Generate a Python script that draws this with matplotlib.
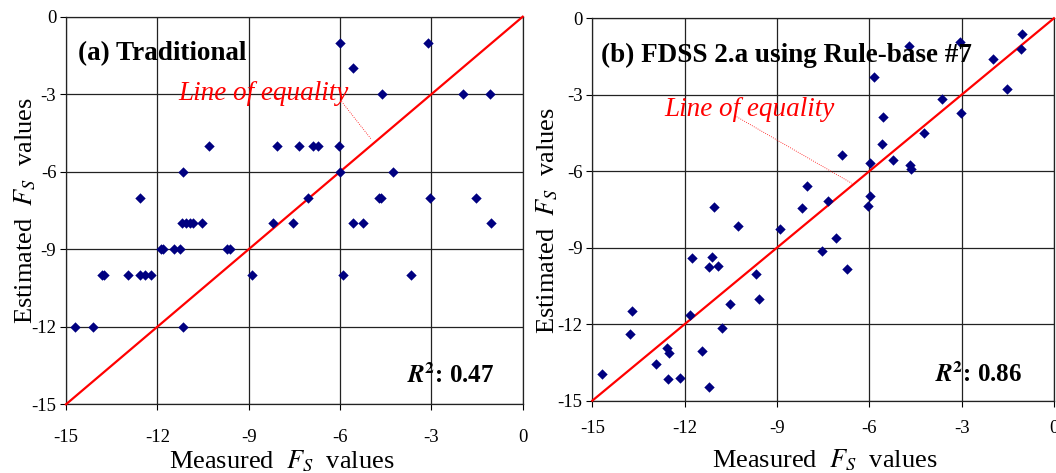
import matplotlib
matplotlib.use("Agg")
import matplotlib.pyplot as plt

plt.rcParams['font.family'] = ['Liberation Serif', 'DejaVu Serif']
plt.rcParams['mathtext.fontset'] = 'stix'
plt.rcParams['axes.unicode_minus'] = False

# (a) Traditional
trad_measured = [-6.0, -3.12, -5.58, -4.63, -1.97, -1.08,
                 -10.31, -8.06, -7.36, -6.88, -6.72, -6.03,
                 -11.17, -6.0, -4.27,
                 -12.57, -7.06, -4.72, -4.66, -3.05, -1.54,
                 -11.18, -11.06, -10.94, -10.82, -10.53, -8.2, -7.54, -5.58, -5.25, -1.05,
                 -11.87, -11.8, -11.46, -11.24, -9.72, -9.62,
                 -13.81, -13.74, -12.95, -12.57, -12.42, -12.2, -8.89, -5.89, -3.67,
                 -14.7, -14.12, -11.17]
trad_estimated = [-1, -1, -2, -3, -3, -3,
                  -5, -5, -5, -5, -5, -5,
                  -6, -6, -6,
                  -7, -7, -7, -7, -7, -7,
                  -8, -8, -8, -8, -8, -8, -8, -8, -8, -8,
                  -9, -9, -9, -9, -9, -9,
                  -10, -10, -10, -10, -10, -10, -10, -10, -10,
                  -12, -12, -12]

# (b) FDSS 2.a using Rule-base #7
fdss_measured = [-1.05, -1.08, -1.97, -1.51, -3.05, -3.03, -3.63, -4.22, -4.71,
                 -5.86, -5.56, -5.6, -5.23, -4.69, -4.64, -5.96, -6.87, -5.96,
                 -6.03, -8.03, -7.33, -8.2, -11.06, -10.27, -8.91, -7.07,
                 -7.54, -6.73, -11.77, -11.12, -11.2, -10.9, -9.68, -9.58,
                 -10.54, -11.83, -10.8, -13.72, -13.79, -12.58, -12.5, -12.94,
                 -11.42, -14.67, -12.55, -12.16, -11.2]
fdss_estimated = [-0.63, -1.2, -1.59, -2.78, -0.94, -3.73, -3.18, -4.5, -1.07,
                  -2.32, -3.86, -4.95, -5.55, -5.76, -5.91, -5.67, -5.37, -6.96,
                  -7.37, -6.58, -7.18, -7.44, -7.41, -8.14, -8.28, -8.6,
                  -9.13, -9.85, -9.4, -9.35, -9.76, -9.72, -10.04, -11.03,
                  -11.22, -11.63, -12.13, -11.49, -12.4, -12.92, -13.13, -13.58,
                  -13.04, -13.94, -14.15, -14.11, -14.48]

ticks = [-15, -12, -9, -6, -3, 0]

fig = plt.figure(figsize=(10.56, 4.73), dpi=100)
ax1 = fig.add_axes([0.0625, 0.1452, 0.4325, 0.8195])
ax2 = fig.add_axes([0.5609, 0.1529, 0.4371, 0.8084])


def setup(ax, measured, estimated, label, r2, label_pos, r2_pos, eq_pos, leader,
          xpad, xlab_xy, ylab_xy):
    ax.set_xlim(-15, 0)
    ax.set_ylim(-15, 0)
    ax.set_xticks(ticks)
    ax.set_yticks(ticks)
    ax.grid(True, color='#222222', lw=0.9)
    ax.set_axisbelow(True)
    for s in ax.spines.values():
        s.set_color('#222222')
        s.set_linewidth(0.9)
    ax.tick_params(direction='out', length=4, width=0.8, labelsize=13.5)
    ax.tick_params(axis='x', pad=xpad)
    ax.tick_params(axis='y', pad=3)

    ax.plot([-15, 0], [-15, 0], color='#ff0000', lw=1.6, zorder=3, clip_on=False)
    ax.scatter(measured, estimated, marker='D', s=28, color='#000080',
               zorder=4, clip_on=False, linewidths=0)

    ax.text(label_pos[0], label_pos[1], label, fontsize=19.5, fontweight='bold',
            ha='left', va='baseline', zorder=5)
    ax.text(r2_pos[0], r2_pos[1], r"$\mathbfit{R}^{\mathbf{2}}$" + ": " + r2,
            fontsize=18, fontweight='bold', ha='left', va='baseline', zorder=5)
    ax.text(eq_pos[0], eq_pos[1], 'Line of equality', fontsize=19.5,
            fontstyle='italic', color='#ff0000', ha='center', va='baseline', zorder=5)
    ax.plot(leader[0], leader[1], color='#ff0000', lw=0.6, ls=':', zorder=3)

    ax.set_xlabel(r"Measured  $F_S$  values", fontsize=19, va='top')
    ax.set_ylabel(r"Estimated  $F_S$  values", fontsize=19)
    ax.xaxis.set_label_coords(*xlab_xy)
    ax.yaxis.set_label_coords(*ylab_xy)


setup(ax1, trad_measured, trad_estimated, '(a) Traditional', '0.47',
      (-14.6, -1.67), (-3.81, -14.19), (-8.5, -3.22),
      ([-5.95, -4.97], [-3.28, -4.75]),
      14, (0.473, -0.113), (-0.061, 0.5))
setup(ax2, fdss_measured, fdss_estimated, '(b) FDSS 2.a using Rule-base #7', '0.86',
      (-14.73, -1.7), (-3.87, -14.27), (-9.91, -3.83),
      ([-10.31, -6.57], [-3.86, -6.47]),
      10, (0.504, -0.122), (-0.070, 0.47))

fig.savefig('out.png', dpi=100)
